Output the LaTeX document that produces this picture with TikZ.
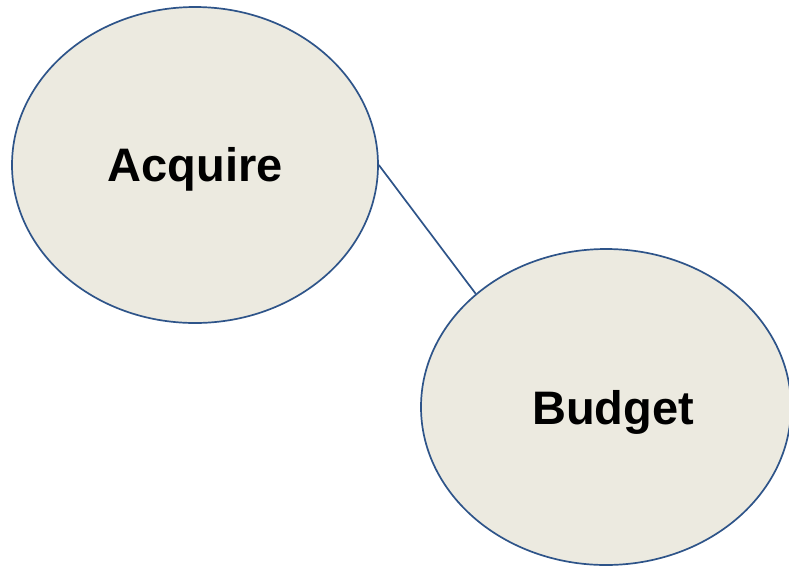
\documentclass[tikz,border=0pt]{standalone}
\usepackage{fontspec}
\setmainfont{Liberation Sans}
\usetikzlibrary{shapes.geometric}
\definecolor{bubblefill}{HTML}{ECEAE0}
\definecolor{bubbleline}{HTML}{2E5489}
\begin{document}
\begin{tikzpicture}[x=1pt,y=-1pt,
  bubble/.style={ellipse, draw=bubbleline, fill=bubblefill, line width=1.7pt, inner sep=0pt},
  bubbletext/.style={font=\fontsize{47}{50}\selectfont\bfseries, text=black},
  link/.style={draw=bubbleline, line width=1.7pt}]
\useasboundingbox (0,0) rectangle (789,566);
\node[bubble, minimum width=366pt, minimum height=316pt] (a) at (195,165) {};
\node[bubble, minimum width=370pt, minimum height=316pt] (b) at (606,407) {};
\node[bubbletext] (at) at (195,169) {Acquire};
\node[bubbletext] (bt) at (613,412) {Budget};
\draw[link] (a.east) -- (b.139);
\end{tikzpicture}
\end{document}
